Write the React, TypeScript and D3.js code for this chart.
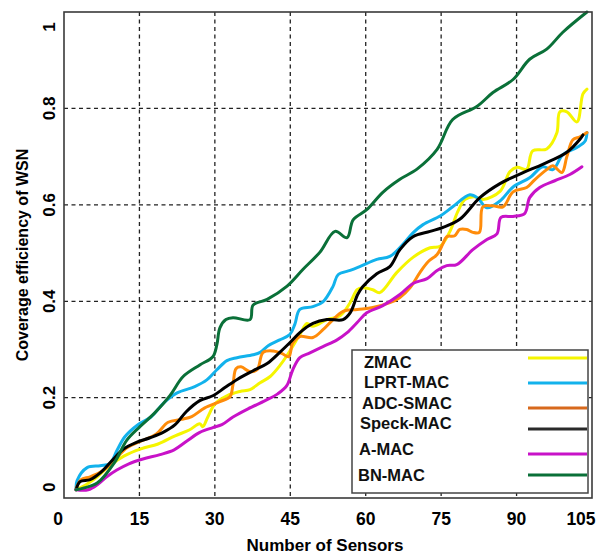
// App.tsx
import React, { useRef, useEffect } from "react";
import * as d3 from "d3";

type Pt = [number, number];

// Valores (x = número de sensores, y = eficiencia de cobertura)
const zmac: Pt[] = [
  [2.4, 0.009], [4.6, 0.021], [6.6, 0.036], [9.3, 0.061], [11.9, 0.079], [15.3, 0.094],
  [18.7, 0.104], [22.1, 0.121], [24.9, 0.133], [27, 0.146], [27.6, 0.14], [28.6, 0.16],
  [30, 0.187], [32.4, 0.204], [35, 0.213], [37, 0.217], [39, 0.231], [41, 0.244],
  [43.1, 0.269], [44.5, 0.29], [46.9, 0.331], [48.3, 0.354], [49.5, 0.348], [52.3, 0.362],
  [54.9, 0.37], [56.9, 0.397], [58.3, 0.424], [59.4, 0.428], [61.4, 0.424], [62.8, 0.418],
  [66.2, 0.46], [69.4, 0.491], [72.8, 0.511], [74.8, 0.514], [76.7, 0.544], [78.3, 0.586],
  [79.7, 0.611], [81.5, 0.617], [83.3, 0.611], [86.7, 0.628], [88.7, 0.669], [90.1, 0.678],
  [92, 0.674], [93.2, 0.712], [96, 0.716], [98, 0.749], [98.6, 0.793], [100, 0.793],
  [102, 0.772], [103.2, 0.83], [104, 0.84],
];

const lprtMac: Pt[] = [
  [2.4, 0.009], [2.6, 0.028], [4.6, 0.055], [7.2, 0.059], [9.1, 0.063], [10.5, 0.09],
  [12.1, 0.119], [14.7, 0.144], [17.3, 0.16], [19.9, 0.19], [22.5, 0.21], [26, 0.223],
  [28.4, 0.237], [30.4, 0.258], [32.4, 0.277], [34.4, 0.283], [37.6, 0.289], [39, 0.294],
  [40.6, 0.308], [42.9, 0.32], [44.9, 0.331], [45.9, 0.352], [46.9, 0.383], [49.5, 0.389],
  [51.5, 0.399], [53.5, 0.431], [54.5, 0.455], [56.9, 0.464], [58.8, 0.472], [62.2, 0.487],
  [64.8, 0.493], [67.4, 0.518], [69.4, 0.542], [71.4, 0.559], [74.8, 0.577], [77.3, 0.596],
  [80.7, 0.621], [82.3, 0.614], [84.1, 0.594], [86.7, 0.608], [89.3, 0.637], [92.6, 0.656],
  [95.2, 0.679], [97.2, 0.673], [99.2, 0.704], [102, 0.719], [103.6, 0.732], [104, 0.75],
];

const adcSmac: Pt[] = [
  [2.4, 0.011], [3.4, 0.03], [5.2, 0.036], [7.6, 0.048], [9.7, 0.067], [12.5, 0.096],
  [15.5, 0.111], [18.3, 0.124], [20.7, 0.149], [23.3, 0.155], [25.4, 0.161], [28, 0.179],
  [31, 0.192], [33, 0.202], [33.6, 0.227], [34.2, 0.26], [35.2, 0.264], [37, 0.254],
  [38.4, 0.258], [39.6, 0.294], [41.6, 0.297], [43.3, 0.292], [44.7, 0.285], [45.5, 0.314],
  [46.9, 0.327], [49.5, 0.325], [51.5, 0.341], [53.5, 0.362], [55.5, 0.379], [58.3, 0.383],
  [61.4, 0.387], [64.8, 0.397], [66.8, 0.408], [68.8, 0.428], [70.8, 0.46], [72.4, 0.482],
  [74.2, 0.497], [75.3, 0.518], [76.1, 0.534], [77.7, 0.536], [78.7, 0.549], [80.1, 0.549],
  [81.3, 0.543], [82.6, 0.543], [83.3, 0.596], [85.3, 0.598], [87.3, 0.596], [89.3, 0.627],
  [92, 0.636], [93.6, 0.652], [96, 0.673], [97.2, 0.681], [99, 0.667], [100, 0.7],
  [101.2, 0.735], [102.6, 0.741], [104, 0.75],
];

const speckMac: Pt[] = [
  [2.4, 0.009], [3.2, 0.026], [5.2, 0.03], [7.2, 0.044], [9.5, 0.069], [11.9, 0.094],
  [14.3, 0.107], [17.1, 0.117], [19.7, 0.128], [22.1, 0.144], [24.3, 0.171], [27, 0.194],
  [29.6, 0.204], [32, 0.221], [34.6, 0.239], [37.6, 0.256], [40.4, 0.271], [42.9, 0.294],
  [44.9, 0.314], [46.9, 0.335], [49.5, 0.354], [52.3, 0.362], [55.5, 0.362], [56.9, 0.376],
  [58.4, 0.414], [59.4, 0.43], [62.2, 0.457], [64.8, 0.472], [66.8, 0.507], [69.4, 0.534],
  [72.8, 0.545], [75.3, 0.553], [78.7, 0.57], [82.7, 0.615], [86.7, 0.644], [91.3, 0.667],
  [95.2, 0.684], [100, 0.709], [102.6, 0.736], [103.2, 0.745],
];

const aMac: Pt[] = [
  [2.4, 0.009], [4.8, 0.009], [6.8, 0.021], [8.5, 0.036], [10.5, 0.05], [12.9, 0.063],
  [15.7, 0.073], [19.1, 0.082], [21.9, 0.092], [24.3, 0.109], [27, 0.128], [29.6, 0.138],
  [31.4, 0.144], [33.6, 0.16], [36.6, 0.177], [40, 0.194], [42.5, 0.208], [44.3, 0.225],
  [45.5, 0.258], [46.9, 0.283], [48.9, 0.293], [51.5, 0.306], [54.3, 0.32], [56.3, 0.335],
  [58.3, 0.356], [60.2, 0.376], [63.4, 0.391], [66.8, 0.414], [69.4, 0.437], [72.2, 0.447],
  [74.2, 0.464], [76.1, 0.474], [78.1, 0.476], [81.3, 0.507], [84.1, 0.528], [86.1, 0.54],
  [86.9, 0.574], [89.3, 0.576], [91.6, 0.582], [92.6, 0.615], [94.6, 0.636], [97.6, 0.65],
  [100.6, 0.663], [103, 0.679],
];

const bnMac: Pt[] = [
  [2.4, 0.009], [4, 0.013], [6.6, 0.023], [10, 0.065], [12.5, 0.112], [15.1, 0.14],
  [18, 0.168], [21.1, 0.205], [23.7, 0.244], [27, 0.268], [29.6, 0.285], [30.4, 0.31],
  [31, 0.345], [32.2, 0.362], [33.6, 0.366], [37, 0.362], [37.6, 0.392], [40.4, 0.404],
  [44.3, 0.431], [47.5, 0.466], [50.9, 0.502], [53.9, 0.545], [56.3, 0.532], [57.5, 0.569],
  [60.2, 0.59], [63.4, 0.626], [66.8, 0.653], [70.2, 0.674], [74.2, 0.715], [77.3, 0.777],
  [82.1, 0.804], [85.3, 0.833], [89.3, 0.86], [92.6, 0.902], [96, 0.923], [99.2, 0.958],
  [104, 1.0],
];

const seriesNames = ["ZMAC", "LPRT-MAC", "ADC-SMAC", "Speck-MAC", "A-MAC", "BN-MAC"];
const seriesData = [zmac, lprtMac, adcSmac, speckMac, aMac, bnMac];
const lineColors = ["#f5f500", "#12b2ec", "#ff8c0a", "#000000", "#c812c8", "#0a7038"];
const legendColors = ["#f5f500", "#12b2ec", "#d7691c", "#2a2a2a", "#c812c8", "#0a7038"];

const xTicks = [0, 15, 30, 45, 60, 75, 90, 105];
const yTicks = [0, 0.2, 0.4, 0.6, 0.8, 1];
const xGrid = [15, 30, 45, 60, 75, 90];
const yGrid = [0.2, 0.4, 0.6, 0.8];

const font = "'Liberation Sans', Arial, sans-serif";

const App: React.FC = () => {
  const ref = useRef<SVGSVGElement | null>(null);

  useEffect(() => {
    if (!ref.current) return;
    const W = 598;
    const H = 554;
    const m = { left: 64, right: 592, top: 12, bottom: 498 };

    const x = d3.scaleLinear().domain([0, 105]).range([m.left, m.right]);
    const y = d3.scaleLinear().domain([-0.008, 1]).range([m.bottom, m.top]);

    const svg = d3.select(ref.current).attr("width", W).attr("height", H);
    svg.selectAll("*").remove();

    svg.append("rect").attr("width", W).attr("height", H).attr("fill", "#fff");

    // rejilla punteada
    const grid = svg.append("g").attr("stroke", "#222").attr("stroke-width", 1.3).attr("stroke-dasharray", "4,3.5");
    grid.selectAll("line.v").data(xGrid).join("line")
      .attr("x1", (d) => x(d)).attr("x2", (d) => x(d))
      .attr("y1", m.top).attr("y2", m.bottom);
    grid.selectAll("line.h").data(yGrid).join("line")
      .attr("x1", m.left).attr("x2", m.right)
      .attr("y1", (d) => y(d)).attr("y2", (d) => y(d));

    // líneas de cada serie
    const line = d3.line<Pt>()
      .curve(d3.curveCatmullRom.alpha(0.5))
      .x((d) => x(d[0]))
      .y((d) => y(d[1]));

    svg.append("g").attr("fill", "none").attr("stroke-width", 3).attr("stroke-linejoin", "round").attr("stroke-linecap", "round")
      .selectAll("path")
      .data(seriesData)
      .join("path")
      .attr("stroke", (_d, i) => lineColors[i])
      .attr("d", (d) => line(d));

    // marco
    svg.append("rect")
      .attr("x", m.left).attr("y", m.top)
      .attr("width", m.right - m.left).attr("height", m.bottom - m.top)
      .attr("fill", "none").attr("stroke", "#3a3a3a").attr("stroke-width", 1.6);

    // etiquetas del eje x
    svg.append("g").selectAll("text").data(xTicks).join("text")
      .attr("x", (d) => (d === 105 ? x(d) - 11 : d === 0 ? x(d) - 6 : x(d)))
      .attr("y", 525)
      .attr("text-anchor", "middle")
      .attr("font-family", font).attr("font-weight", "bold").attr("font-size", 17.5)
      .text((d) => String(d));

    // etiquetas del eje y (giradas)
    const yNudge = (d: number) => (d === 0 ? -7 : d === 1 ? 15 : 0);
    svg.append("g").selectAll("text").data(yTicks).join("text")
      .attr("transform", (d) => `translate(55,${y(d) + yNudge(d)}) rotate(-90)`)
      .attr("text-anchor", "middle")
      .attr("font-family", font).attr("font-weight", "bold").attr("font-size", 17)
      .text((d) => String(d));

    // títulos de ejes
    svg.append("text")
      .attr("x", 325).attr("y", 551)
      .attr("text-anchor", "middle")
      .attr("font-family", font).attr("font-weight", "bold").attr("font-size", 17)
      .text("Number of Sensors");

    svg.append("text")
      .attr("transform", `translate(28,${(m.top + m.bottom) / 2}) rotate(-90)`)
      .attr("text-anchor", "middle")
      .attr("font-family", font).attr("font-weight", "bold").attr("font-size", 16)
      .text("Coverage efficiency of WSN");

    // leyenda
    const legendTextX = [364, 364, 362, 360, 359, 358];
    const legendTextY = [368, 388, 409, 429, 455, 481];
    const legendLineY = [358, 383, 408, 429, 454, 475];
    const lg = svg.append("g");
    lg.append("rect")
      .attr("x", 352).attr("y", 350).attr("width", 236).attr("height", 143)
      .attr("fill", "#fff").attr("stroke", "#444").attr("stroke-width", 1.5);
    seriesNames.forEach((name, i) => {
      lg.append("text")
        .attr("x", legendTextX[i]).attr("y", legendTextY[i])
        .attr("font-family", font).attr("font-weight", "bold").attr("font-size", 16.5)
        .attr("fill", "#111")
        .text(name);
      lg.append("line")
        .attr("x1", 528).attr("x2", 587)
        .attr("y1", legendLineY[i]).attr("y2", legendLineY[i])
        .attr("stroke", legendColors[i]).attr("stroke-width", 3);
    });

    return () => {
      svg.selectAll("*").remove();
    };
  }, []);

  return <svg ref={ref} style={{ position: "absolute", left: 0, top: 0 }}></svg>;
};

export default App;
